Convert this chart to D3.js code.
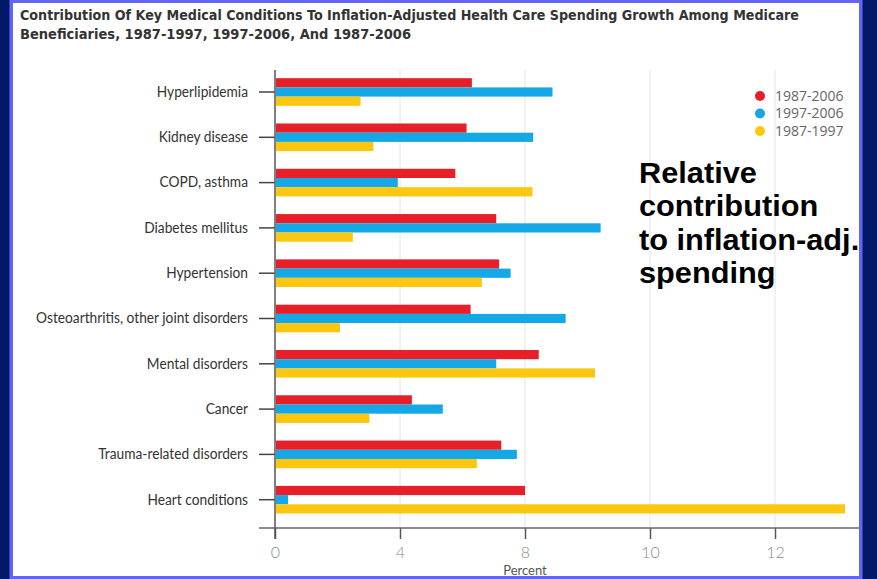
<!DOCTYPE html>
<html>
<head>
<meta charset="utf-8">
<script src="https://cdn.jsdelivr.net/npm/d3@7"></script>
<style>
  html, body { margin: 0; padding: 0; background: #021868; }
  svg { display: block; }
</style>
</head>
<body>
<svg id="chart" width="877" height="579"></svg>
<script>
// Conditions, top to bottom
const categories = [
  "Hyperlipidemia",
  "Kidney disease",
  "COPD, asthma",
  "Diabetes mellitus",
  "Hypertension",
  "Osteoarthritis, other joint disorders",
  "Mental disorders",
  "Cancer",
  "Trauma-related disorders",
  "Heart conditions"
];

// Relative contribution (percent) per period
const values1987to2006 = [6.30, 6.13, 5.77, 7.08, 7.17, 6.26, 8.22, 4.38, 7.24, 8.00];
const values1997to2006 = [8.44, 8.13, 3.93, 9.21, 7.54, 8.65, 7.08, 5.37, 7.74, 0.42];
const values1987to1997 = [2.74, 3.15, 8.12, 2.49, 6.62, 2.08, 9.12, 3.02, 6.46, 13.12];

const seriesNames = ["1987-2006", "1997-2006", "1987-1997"];
const seriesColors = ["#e61f29", "#14a8e6", "#fcc710"];

// Axis ticks as printed on the percent axis (evenly spaced)
const tickValues = [0, 4, 8, 10, 12];

const titleLines = [
  "Contribution Of Key Medical Conditions To Inflation-Adjusted Health Care Spending Growth Among Medicare",
  "Beneficiaries, 1987-1997, 1997-2006, And 1987-2006"
];
const noteLines = ["Relative", "contribution", "to inflation-adj.", "spending"];

const series = [values1987to2006, values1997to2006, values1987to1997];
const rows = categories.map((c, i) => ({
  name: c,
  vals: series.map((s, k) => ({ key: seriesNames[k], value: s[i], color: seriesColors[k] }))
}));

const svg = d3.select("#chart");
const W = 877, H = 579;

// Frame: navy background, light blue border, white panel
svg.append("rect").attr("width", W).attr("height", H).attr("fill", "#021868");
const panel = { x: 13, y: 3, w: 846, h: 573 };
svg.append("defs").append("clipPath").attr("id", "panelClip")
  .append("rect").attr("x", panel.x).attr("y", panel.y).attr("width", panel.w).attr("height", panel.h);
svg.append("rect")
  .attr("x", panel.x).attr("y", panel.y).attr("width", panel.w).attr("height", panel.h)
  .attr("fill", "#ffffff");

const g = svg.append("g").attr("clip-path", "url(#panelClip)");

// Scales
const plotLeft = 275, tickStep = 125;
const x = d3.scaleLinear()
  .domain(tickValues)
  .range(tickValues.map((d, i) => plotLeft + i * tickStep));

const rowStep = 45.3;
const y = d3.scaleBand()
  .domain(categories)
  .range([92 - rowStep / 2, 92 + (categories.length - 0.5) * rowStep])
  .paddingInner(0.39)
  .paddingOuter(0.195);
const ySub = d3.scaleBand().domain(seriesNames).range([0, y.bandwidth()]);

const axisTop = 70, axisY = 528, tickLen = 11;

// Gridlines
g.append("g").selectAll("line")
  .data(tickValues.slice(1))
  .join("line")
  .attr("x1", d => x(d)).attr("x2", d => x(d))
  .attr("y1", axisTop).attr("y2", axisY)
  .attr("stroke", "#e4e4e4").attr("stroke-width", 1);

// Bars
const groups = g.append("g").selectAll("g")
  .data(rows)
  .join("g")
  .attr("transform", d => `translate(0,${y(d.name)})`);
groups.selectAll("rect")
  .data(d => d.vals)
  .join("rect")
  .attr("x", x(0) + 1)
  .attr("y", d => ySub(d.key))
  .attr("width", d => x(d.value) - x(0) - 1)
  .attr("height", ySub.bandwidth())
  .attr("fill", d => d.color);

// Bottom axis
const xAxis = d3.axisBottom(x).tickValues(tickValues).tickSize(tickLen).tickPadding(8)
  .tickFormat(d3.format("d"));
const xg = g.append("g").attr("transform", `translate(0,${axisY})`).call(xAxis);
xg.select(".domain").remove();
xg.selectAll(".tick line").attr("stroke", "#555").attr("stroke-width", 1.5);
xg.selectAll(".tick text")
  .attr("fill", "#8a8a8a")
  .style("font-family", "Lato, 'Open Sans', sans-serif")
  .style("font-size", "16px")
  .style("font-weight", 300);
g.append("line")
  .attr("x1", 259).attr("x2", panel.x + panel.w)
  .attr("y1", axisY).attr("y2", axisY)
  .attr("stroke", "#666").attr("stroke-width", 1.5);
g.append("text")
  .attr("x", (x(0) + x(12)) / 2).attr("y", 575)
  .attr("text-anchor", "middle")
  .attr("fill", "#555")
  .style("font-family", "Lato, 'Open Sans', sans-serif")
  .style("font-size", "13px")
  .text("Percent");

// Left axis
const yAxis = d3.axisLeft(y).tickSize(16).tickPadding(0);
const yg = g.append("g").attr("transform", `translate(${plotLeft},0)`).call(yAxis);
yg.select(".domain").remove();
yg.selectAll(".tick line").attr("stroke", "#444").attr("stroke-width", 1.5);
const labelText = yg.selectAll(".tick text")
  .attr("x", 0)
  .attr("fill", "#333")
  .style("font-family", "Lato, 'Open Sans', sans-serif")
  .style("font-size", "15px");
// Squeeze category labels so the longest one spans the available width
const longest = d3.max(labelText.nodes(), n => n.getComputedTextLength());
const squeeze = Math.min(1, 212 / longest);
labelText.attr("transform", `translate(-27,0) scale(${squeeze},1)`);
g.append("line")
  .attr("x1", plotLeft).attr("x2", plotLeft)
  .attr("y1", axisTop).attr("y2", axisY + tickLen)
  .attr("stroke", "#555").attr("stroke-width", 1.5);

// Title
g.append("g").selectAll("text")
  .data(titleLines)
  .join("text")
  .attr("x", 20)
  .attr("y", (d, i) => 20 + i * 19)
  .attr("fill", "#333")
  .attr("textLength", (d, i) => i === 0 ? 779 : 391)
  .attr("lengthAdjust", "spacingAndGlyphs")
  .style("font-family", "'DejaVu Sans', sans-serif")
  .style("font-stretch", "condensed")
  .style("font-weight", "bold")
  .style("font-size", "14.5px")
  .text(d => d);

// Legend
const legend = g.append("g").selectAll("g")
  .data(seriesNames)
  .join("g")
  .attr("transform", (d, i) => `translate(760,${96 + i * 17.5})`);
legend.append("circle").attr("r", 5).attr("fill", (d, i) => seriesColors[i]);
legend.append("text")
  .attr("x", 15).attr("dy", "0.35em")
  .attr("fill", "#666")
  .style("font-family", "'Open Sans', sans-serif")
  .style("font-size", "14px")
  .text(d => d);

// Side note
g.append("g").selectAll("text")
  .data(noteLines)
  .join("text")
  .attr("x", 639)
  .attr("y", (d, i) => 183 + i * 33.5)
  .attr("fill", "#000")
  .style("font-family", "'Liberation Sans', Arial, sans-serif")
  .style("font-weight", "bold")
  .style("font-size", "29px")
  .attr("transform", "translate(639,0) scale(1.06,1) translate(-639,0)")
  .text(d => d);

// Border on top
svg.append("rect")
  .attr("x", panel.x - 1.75).attr("y", panel.y - 1.75)
  .attr("width", panel.w + 3.5).attr("height", panel.h + 3.5)
  .attr("fill", "none")
  .attr("stroke", "#6464f5")
  .attr("stroke-width", 3.5);
</script>
</body>
</html>
